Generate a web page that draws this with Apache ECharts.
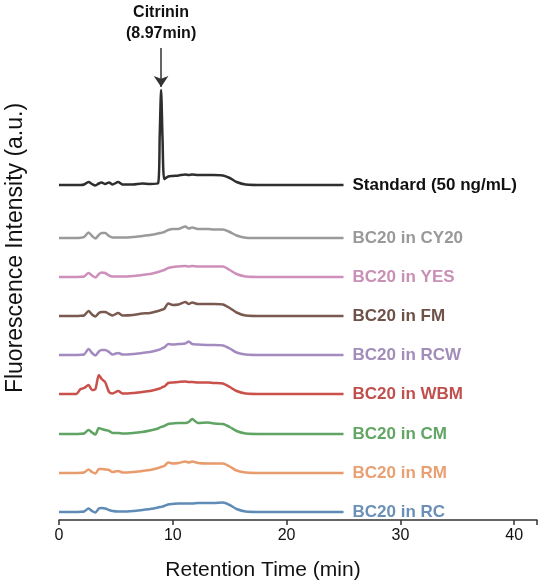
<!DOCTYPE html>
<html>
<head>
<meta charset="utf-8">
<title>Citrinin HPLC chromatograms</title>
<script src="https://cdn.jsdelivr.net/npm/echarts@6/dist/echarts.min.js"></script>
<style>
    html, body { margin: 0; padding: 0; background: #fff; }
    #chart { width: 550px; height: 588px; }
</style>
</head>
<body>
<div id="chart"></div>
<script>
// retention time (min), shared by all traces
var times = [0, 1.5, 1.9, 2.2, 2.6, 2.9, 3.2, 3.5, 3.75, 4.05, 4.4, 4.7, 5.2, 5.6, 6.5, 7.3, 8.0,
    8.7, 8.85, 8.97, 9.1, 9.25,
    9.6, 10.0, 10.5, 11.1, 11.4, 11.7, 12.2, 13.1, 13.6, 14.4, 15.0, 15.6, 16.4, 18, 25];

// trace names, top to bottom
var names = ['Standard (50 ng/mL)', 'BC20 in CY20', 'BC20 in YES', 'BC20 in FM', 'BC20 in RCW',
    'BC20 in WBM', 'BC20 in CM', 'BC20 in RM', 'BC20 in RC'];

// vertical offset of each trace (a.u.)
var offsets = [335, 282, 243, 204, 165, 126, 86, 47, 8];

// fluorescence signal above baseline (a.u.)
var standard = [0, 0, 0, 0.5, 3, 1, -0.5, 1.5, 2.5, 1, 2.5, 0.5, 3, 0.5, 0.5, 1.5, 1,
    1.5, 50, 95, 45, 6,
    8.5, 9, 9.5, 10.5, 10, 10.5, 10, 10, 10, 9.5, 7, 3, 0.5, 0, 0];
var cy20 = [0, 0, 0.2, 1, 5.5, 2, -0.5, 3, 5, 5, 2, 0.5, 0.5, 0.5, 1, 2, 3,
    4.5, 5, 5, 5.5, 6,
    8, 9, 9, 11.5, 9.5, 10.5, 9, 9, 8.5, 8.5, 6, 2.5, 0.3, 0, 0];
var yes = [0, 0, 0.2, 0.5, 4, 1.5, -0.5, 3, 4.5, 4, 1.5, 0.5, 0.5, 0.5, 1, 2, 3,
    5, 5.5, 6, 6.5, 7,
    9, 10, 10.5, 11, 10.5, 11, 10.5, 10.5, 10.5, 10.5, 7, 3, 0.5, 0, 0];
var fm = [0, 0, 0.2, 0.5, 5, 1.5, -0.5, 3, 4, 4, 2, 0.5, 3, 0.5, 1, 2.5, 3,
    5, 5.5, 6, 6.5, 7,
    12.5, 11, 11.5, 14, 12, 13.5, 12, 12, 12, 11.5, 8, 3.5, 0.5, 0, 0];
var rcw = [0, 0, 0.2, 0.5, 6, 2, -0.5, 3.5, 5, 5, 3, 0.5, 2, 0.5, 1, 2, 3,
    5, 5.5, 6, 7, 7.5,
    11, 10.5, 11, 11.5, 13.5, 11, 10.5, 10, 10, 9.5, 6.5, 2.5, 0.5, 0, 0];
var wbm = [0, 0, 5, 6, 9, 4, 5, 19, 15, 12, 2, 0.5, 3, 0.5, 1, 2, 3,
    5, 5.5, 6, 7, 7.5,
    11, 11.5, 12, 12.5, 12, 12, 11.5, 11.5, 11, 10.5, 7, 3, 0.5, 0, 0];
var cm = [0, 0, 0.2, 0.5, 4, 1.5, -0.5, 6, 5, 4, 3, 1, 1, 0.5, 1, 2, 3.5,
    5.5, 6.5, 7, 7.5, 8,
    10, 10.5, 11, 11, 12, 15, 11, 11.5, 10.5, 10, 7, 3, 0.5, 0, 0];
var rm = [0, 0, 0.2, 0.5, 3.5, 1, -0.5, 4, 4, 3.5, 3, 1, 2, 0.5, 1, 2, 3,
    5, 5.5, 6, 6.5, 7,
    10.5, 9.5, 10, 11.5, 10.5, 11.5, 10, 9.5, 9.5, 9.5, 6.5, 2.5, 0.5, 0, 0];
var rc = [0, 0, 0.2, 0.5, 3.5, 1, -0.5, 3.5, 4, 3.5, 2, 1, 0.5, 0.5, 1, 2, 3,
    4.5, 5, 5, 5.5, 6,
    7.5, 8, 8.5, 8.5, 8.5, 8.5, 9, 9, 9, 9.5, 7, 3, 0.5, 0, 0];

var traces = [standard, cy20, yes, fm, rcw, wbm, cm, rm, rc];

// citrinin peak
var peakTime = 8.97;
var peakLabel = 'Citrinin\n(8.97min)';

var colors = ['#2e2e2e', '#9a9a9a', '#cf8fbb', '#7a5a50', '#a38bc0', '#c9504b', '#5fa463', '#e89b6c', '#5f8bb7'];
var labelColors = ['#111111', '#999999', '#c890b5', '#6e524a', '#a18cba', '#c0504d', '#62a564', '#e9a074', '#6b90b8'];

var font = 'Liberation Sans, Arial, Helvetica, sans-serif';

var myChart = echarts.init(document.getElementById('chart'), null, { renderer: 'canvas' });

var series = traces.map(function (vals, i) {
    var s = {
        name: names[i],
        type: 'line',
        data: vals.map(function (v, k) {
            return [times[k], v + offsets[i]];
        }),
        showSymbol: false,
        smooth: 0.25,
        lineStyle: { color: colors[i], width: 2.5 },
        itemStyle: { color: colors[i] },
        animation: false,
        endLabel: {
            show: true,
            formatter: '{a}',
            distance: 9,
            color: labelColors[i],
            fontFamily: font,
            fontWeight: 'bold',
            fontSize: 17
        }
    };
    if (i === 0) {
        // arrow + annotation above the citrinin peak
        var peakTop = offsets[0] + Math.max.apply(null, standard);
        s.markLine = {
            silent: true,
            animation: false,
            symbol: ['none', 'arrow'],
            symbolSize: 11,
            lineStyle: { color: '#333', width: 1.5, type: 'solid' },
            label: {
                show: true,
                position: 'start',
                formatter: peakLabel,
                color: '#111',
                fontFamily: font,
                fontWeight: 'bold',
                fontSize: 16,
                lineHeight: 21,
                distance: 4
            },
            data: [[
                { coord: [peakTime, peakTop + 42] },
                { coord: [peakTime, peakTop + 3] }
            ]]
        };
    }
    return s;
});

var options = {
    backgroundColor: '#fff',
    animation: false,
    grid: { left: 59, right: 13, top: 20, bottom: 68, containLabel: false, outerBoundsMode: 'none' },
    xAxis: {
        type: 'value',
        min: 0,
        max: 42,
        interval: 10,
        name: 'Retention Time (min)',
        nameLocation: 'middle',
        nameGap: 40,
        nameTextStyle: { fontFamily: font, fontSize: 21, color: '#111', padding: [0, 70, 0, 0] },
        axisLine: { show: true, lineStyle: { color: '#333', width: 1.5 } },
        axisTick: { show: true, length: 5, lineStyle: { color: '#333', width: 1.5 } },
        axisLabel: { fontFamily: font, fontSize: 16, color: '#111', margin: 8,
            formatter: function (v) { return v > 40 ? '' : v; } },
        splitLine: { show: false }
    },
    yAxis: {
        type: 'value',
        min: 0,
        max: 500,
        name: 'Fluorescence Intensity (a.u.)',
        nameLocation: 'middle',
        nameGap: 32,
        nameTextStyle: { fontFamily: font, fontSize: 23, color: '#111', padding: [0, 0, 0, 44] },
        axisLine: { show: false },
        axisTick: { show: false },
        axisLabel: { show: false },
        splitLine: { show: false }
    },
    series: series
};
myChart.setOption(options);
</script>
</body>
</html>
